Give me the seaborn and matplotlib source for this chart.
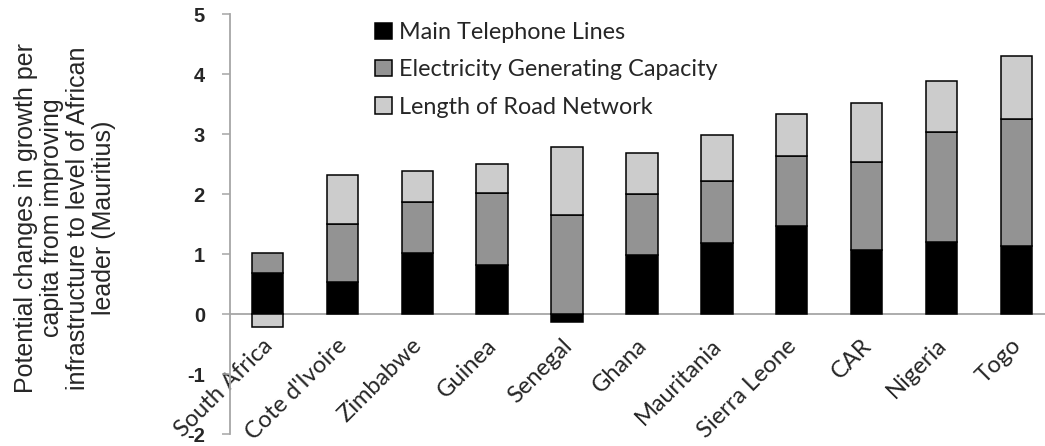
import matplotlib
matplotlib.use("Agg")
import matplotlib.pyplot as plt
from matplotlib.patches import Patch
from matplotlib.transforms import ScaledTranslation
import numpy as np
import pandas as pd
import seaborn as sns

countries = ["South Africa", "Cote d'Ivoire", "Zimbabwe", "Guinea", "Senegal", "Ghana",
             "Mauritania", "Sierra Leone", "CAR", "Nigeria", "Togo"]
telephone = [0.69, 0.53, 1.01, 0.81, -0.14, 0.98, 1.19, 1.47, 1.06, 1.20, 1.13]
electricity = [0.32, 0.97, 0.85, 1.20, 1.65, 1.02, 1.03, 1.16, 1.48, 1.84, 2.12]
road = [-0.22, 0.82, 0.52, 0.49, 1.14, 0.69, 0.76, 0.71, 0.97, 0.85, 1.05]
series = ["Main Telephone Lines", "Electricity Generating Capacity", "Length of Road Network"]
colors = ["#000000", "#939393", "#cccccc"]
yticks = [-2, -1, 0, 1, 2, 3, 4, 5]

sns.set_style("white")
plt.rcParams['axes.unicode_minus'] = False
plt.rcParams['font.family'] = ['Lato', 'DejaVu Sans']

fig = plt.figure(figsize=(10.45, 4.46), dpi=100)
ax = fig.add_axes([230 / 1045, 12 / 446, 815 / 1045, 420 / 446])

# excel style stacking: positives up from 0, negatives down from 0
pos_base = np.zeros(len(countries))
neg_base = np.zeros(len(countries))
for vals, col in zip([telephone, electricity, road], colors):
    vals = np.array(vals)
    bottom = np.where(vals >= 0, pos_base, neg_base)
    df = pd.DataFrame({'country': countries, 'value': vals})
    sns.barplot(data=df, x='country', y='value', bottom=bottom, color=col,
                saturation=1, width=0.42, edgecolor='black', linewidth=1.1,
                errorbar=None, ax=ax)
    pos_base = pos_base + np.where(vals >= 0, vals, 0)
    neg_base = neg_base + np.where(vals < 0, vals, 0)

ax.set_xlim(-0.5, -0.5 + 815 / 74.9)
ax.set_ylim(-2, 5)
ax.set_yticks(yticks)
ax.set_yticklabels([str(v) for v in yticks], fontweight='bold', fontsize=14.5,
                   family=['Liberation Sans', 'DejaVu Sans'])
ax.set_xlabel("")
ax.set_ylabel("")

for s in ['top', 'right']:
    ax.spines[s].set_visible(False)
ax.spines['left'].set_color('#a6a6a6')
ax.spines['left'].set_linewidth(1.3)
ax.spines['bottom'].set_position(('data', 0))
ax.spines['bottom'].set_color('#a6a6a6')
ax.spines['bottom'].set_linewidth(1.3)
ax.spines['bottom'].set_zorder(0.5)

ax.tick_params(axis='y', direction='out', length=6, width=1.1, color='#a6a6a6',
               pad=12, left=True)
ax.tick_params(axis='x', length=0, pad=15, labelsize=17)
shift = ScaledTranslation(-6 / 100, 0, fig.dpi_scale_trans)
for lab in ax.get_xticklabels():
    lab.set_rotation(45)
    lab.set_ha('right')
    lab.set_va('top')
    lab.set_rotation_mode('anchor')
    lab.set_transform(lab.get_transform() + shift)

fig.text(65 / 1045, 1 - 218 / 446,
         "Potential changes in growth per\ncapita from improving\ninfrastructure to level of African\nleader (Mauritius)",
         rotation=90, ha='center', va='center', multialignment='center',
         fontsize=18, family=['Liberation Sans', 'DejaVu Sans'], linespacing=1.1)

handles = [Patch(facecolor=c, edgecolor='black', linewidth=1.1) for c in colors]
ax.legend(handles, series, loc='upper left', bbox_to_anchor=(375 / 1045, 1 - 22 / 446),
          bbox_transform=fig.transFigure, frameon=False, fontsize=16.8,
          handlelength=0.72, handleheight=0.72, handletextpad=0.3,
          labelspacing=0.7, borderpad=0, borderaxespad=0)

fig.savefig("out.png", dpi=100)
